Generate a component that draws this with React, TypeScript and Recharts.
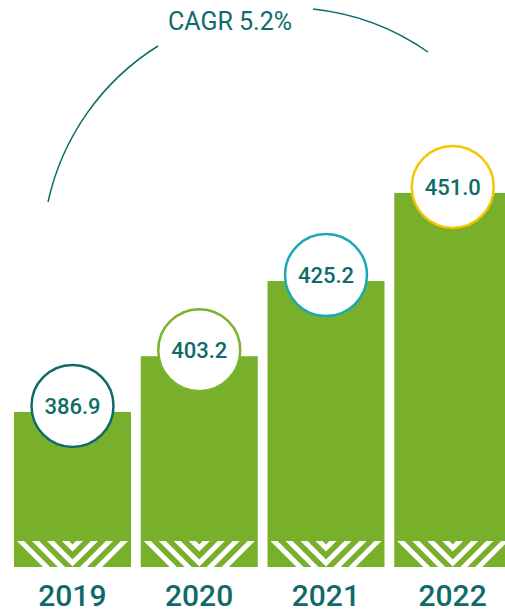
import React from 'react';
import { BarChart, Bar, XAxis, YAxis, LabelList, Customized } from 'recharts';

const years = ['2019', '2020', '2021', '2022'];
const revenue = [386.9, 403.2, 425.2, 451.0];
const ringColors = ['#0f6b6a', '#7ab32e', '#18a8b6', '#f6c500'];
const cagrLabel = 'CAGR 5.2%';

const data = years.map((year, i) => ({ year, value: revenue[i] }));

const GREEN = '#79b02b';
const TEAL = '#0f6b6a';
const FONT = 'Roboto, "DejaVu Sans", sans-serif';

// bar with the white chevron stripes at its foot
function HatchedBar(props: any) {
    const { x, y, width, height, index } = props;
    if (height <= 0) return null;
    const hatchH = 26;
    const bottom = y + height;
    const top = bottom - hatchH;
    const cx = x + width / 2;
    const clipId = `hatch-clip-${index}`;
    const lines = [];
    for (let k = -5; k <= 3; k++) {
        const vy = top + 7 + k * 15;
        const L = width;
        lines.push(
            <polyline
                key={k}
                points={`${cx - L},${vy - L} ${cx},${vy} ${cx + L},${vy - L}`}
                fill="none"
                stroke="#fff"
                strokeWidth={5}
            />
        );
    }
    return (
        <g>
            <defs>
                <clipPath id={clipId}>
                    <rect x={x} y={top} width={width} height={hatchH} />
                </clipPath>
            </defs>
            <rect x={x} y={y} width={width} height={height} fill={GREEN} />
            <g clipPath={`url(#${clipId})`}>{lines}</g>
        </g>
    );
}

function ValueBubble(props: any) {
    const { x, y, width, value, index } = props;
    const cx = x + width / 2;
    const cy = y - 6;
    return (
        <g>
            <circle cx={cx} cy={cy} r={41} fill="#fff" stroke={ringColors[index]} strokeWidth={2.5} />
            <text
                x={cx}
                y={cy + 8}
                textAnchor="middle"
                fill={TEAL}
                fontSize={22}
                fontWeight={500}
                fontFamily={FONT}
            >
                {Number(value).toFixed(1)}
            </text>
        </g>
    );
}

function YearTick(props: any) {
    const { x, y, payload } = props;
    return (
        <text x={x} y={y + 39} textAnchor="middle" fill={TEAL} fontSize={30} fontWeight={500} fontFamily={FONT}>
            {payload.value}
        </text>
    );
}

function CagrArc() {
    return (
        <g>
            <path d="M 48 202 A 246 246 0 0 1 158 46" fill="none" stroke={TEAL} strokeWidth={1.5} />
            <path d="M 313 9 A 246 246 0 0 1 428 52" fill="none" stroke={TEAL} strokeWidth={1.5} />
            <text x={230} y={30} textAnchor="middle" fill={TEAL} fontSize={25} fontFamily={FONT}>
                {cagrLabel}
            </text>
        </g>
    );
}

export default function App() {
    return (
        <div style={{ position: 'absolute', left: 0, top: 0, width: 505, height: 611, overflow: 'hidden', background: '#fff' }}>
            <BarChart width={520} height={611} data={data} margin={{ top: 128, right: 4, bottom: 0, left: 9 }}>
                <XAxis
                    dataKey="year"
                    axisLine={false}
                    tickLine={false}
                    tickSize={0}
                    tickMargin={0}
                    height={44}
                    interval={0}
                    tick={<YearTick />}
                />
                <YAxis hide domain={[341.5, 470]} allowDataOverflow />
                <Bar dataKey="value" barSize={117} shape={<HatchedBar />} isAnimationActive={false}>
                    <LabelList dataKey="value" content={<ValueBubble />} />
                </Bar>
                <Customized component={<CagrArc />} />
            </BarChart>
        </div>
    );
}
